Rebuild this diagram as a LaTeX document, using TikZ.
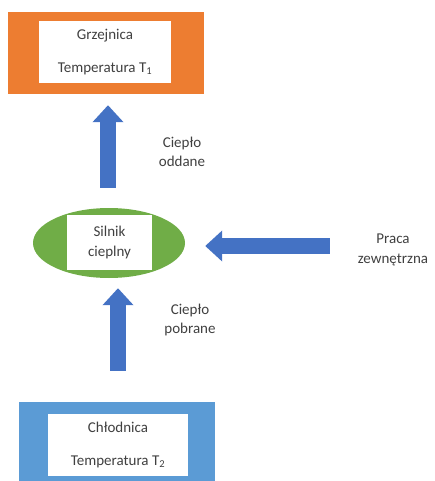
\documentclass[tikz,border=0pt]{standalone}
\usepackage{fontspec}
\setmainfont{Carlito}
\usepackage{tikz}
\usetikzlibrary{arrows.meta,positioning,shapes.geometric}

\definecolor{hotorange}{HTML}{ED7D31}
\definecolor{enggreen}{HTML}{70AD47}
\definecolor{coldblue}{HTML}{5B9BD5}
\definecolor{arrblue}{HTML}{4472C4}
\definecolor{txtgray}{HTML}{404040}

\begin{document}
\begin{tikzpicture}[
  x=1pt, y=-1pt,
  every node/.style={text=txtgray, font=\fontsize{15}{19.5}\selectfont},
  outer/.style={minimum width=196pt, minimum height=82pt, inner sep=0pt},
  inner/.style={fill=white, align=center, inner sep=0pt},
  lbl/.style={align=center, inner sep=0pt},
  bigarr/.style={line width=16pt, draw=arrblue,
                 -{Triangle[length=17pt, width=30pt]}}]
\useasboundingbox (0,0) rectangle (435,481);
% reservoirs
\node[outer, fill=hotorange] (grz) at (106,53) {};
\node[inner, minimum width=132pt, minimum height=62pt] (grzin) at (105,52)
  {Grzejnica\\[13pt]Temperatura T\textsubscript{1}};
\node[outer, fill=coldblue] (chl) at (117,443) {};
\node[inner, minimum width=140pt, minimum height=62pt] (chlin) at (118,445)
  {Chłodnica\\[13pt]Temperatura T\textsubscript{2}};
% engine
\node[ellipse, fill=enggreen, minimum width=152pt, minimum height=70pt] (silnik) at (109,243) {};
\node[inner, minimum width=85pt, minimum height=55pt] (silnikin) at (109.5,242.5)
  {Silnik\\cieplny};
% labels
\node[lbl] (oddane) at (182,152) {Ciepło\\oddane};
\node[lbl] (pobrane) at (190,320) {Ciepło\\pobrane};
\node[lbl] (praca) at (393,250) {Praca\\zewnętrzna};
% arrows
\draw[bigarr, shorten <=20pt, shorten >=11pt] ([xshift=-1pt]silnik.north) -- ([xshift=-1pt]silnik.north |- grz.south);
\draw[bigarr, shorten <=31pt, shorten >=10pt] ([xshift=1pt]chl.north) -- ([xshift=1pt]chl.north |- silnik.south);
\draw[bigarr, shorten <=28pt, shorten >=20pt] ([yshift=4pt]praca.west) -- ([yshift=4pt]praca.west -| silnik.east);
\end{tikzpicture}
\end{document}
